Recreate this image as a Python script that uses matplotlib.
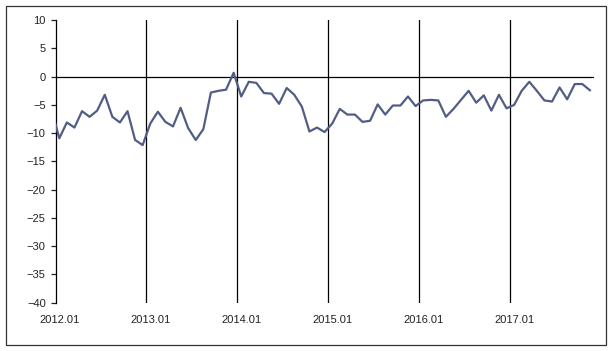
import matplotlib
matplotlib.use("Agg")
import matplotlib.pyplot as plt
import numpy as np

plt.rcParams['font.family'] = ['Liberation Sans', 'DejaVu Sans']

# monthly values 2012.01 .. 2017.11
values = [
    -10.9, -8.1, -9.0, -6.1, -7.1, -6.0, -3.2, -7.1, -8.1, -6.1, -11.2, -12.1,   # 2012
    -8.3, -6.2, -8.0, -8.8, -5.5, -9.1, -11.2, -9.3, -2.8, -2.5, -2.3, 0.7,      # 2013
    -3.5, -0.9, -1.1, -2.9, -3.0, -4.8, -2.0, -3.2, -5.3, -9.7, -9.0, -9.8,      # 2014
    -8.3, -5.7, -6.7, -6.7, -8.0, -7.8, -4.9, -6.7, -5.1, -5.1, -3.5, -5.2,      # 2015
    -4.2, -4.1, -4.2, -7.1, -5.7, -4.1, -2.5, -4.6, -3.3, -6.0, -3.2, -5.6,      # 2016
    -5.0, -2.5, -0.9, -2.5, -4.2, -4.4, -1.9, -4.0, -1.3, -1.3, -2.4,            # 2017
]
prev_value = -5.9  # 2011.12, mostly hidden behind the axis
years = [2012, 2013, 2014, 2015, 2016, 2017]
tick_labels = ["%d.01" % y for y in years]

x = np.arange(-1, len(values))
y = [prev_value] + values

fig = plt.figure(figsize=(6.13, 3.51), dpi=100)
ax = fig.add_axes([55.5 / 613, 1 - 302.7 / 351, (593.7 - 55.5) / 613, (302.7 - 20.2) / 351])

ax.plot(x, y, color='#525D85', lw=1.6, solid_joinstyle='round', zorder=3)

ax.set_xlim(-0.5, len(values) - 0.5)
ax.set_ylim(-40, 10)
ax.set_yticks(np.arange(-40, 11, 5))

jan_idx = [12 * i for i in range(len(years))]
ax.set_xticks(jan_idx)
ax.set_xticklabels(tick_labels)
for j in jan_idx[1:]:
    ax.axvline(j - 0.5, color='black', lw=0.9, zorder=2)
ax.axhline(0, color='black', lw=0.9, zorder=2)

for s in ['top', 'right', 'bottom']:
    ax.spines[s].set_visible(False)
ax.spines['left'].set_color('black')
ax.spines['left'].set_linewidth(0.9)
ax.tick_params(axis='y', length=3.5, width=0.9, pad=3.5, labelsize=8, colors='#222222')
ax.tick_params(axis='x', length=0, pad=9, labelsize=8, colors='#222222')

border = plt.Rectangle((6 / 613, 6 / 351), 600 / 613, 339 / 351, transform=fig.transFigure,
                       fill=False, edgecolor='#333333', lw=0.9)
fig.patches.append(border)

fig.savefig("out.png", dpi=100)
